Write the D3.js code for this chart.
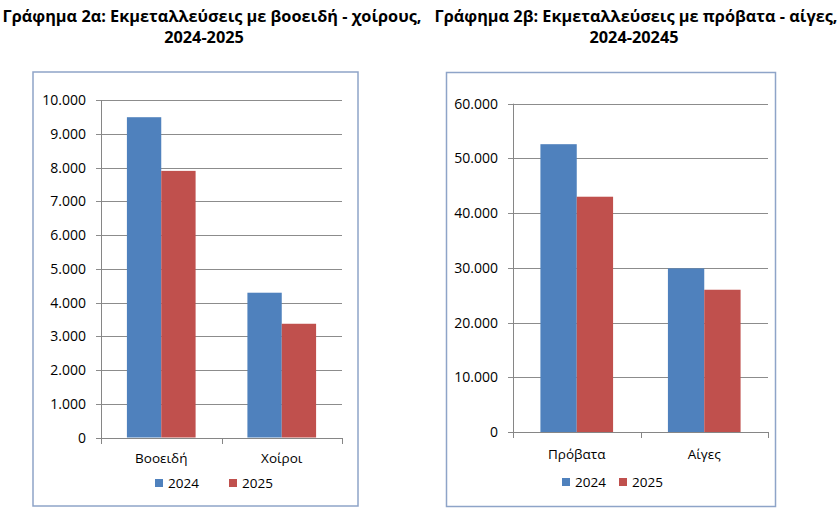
<!DOCTYPE html>
<html lang="el">
  <head>
    <meta charset="UTF-8" />
    <title>Γράφημα 2α - 2β</title>
    <style>
      body {
        margin: 0;
        background: #fff;
      }
      svg {
        display: block;
        font-family: "Open Sans", "DejaVu Sans", sans-serif;
      }
      .title {
        font-weight: bold;
        font-size: 16.3px;
        fill: #000;
        text-anchor: middle;
      }
      .frame {
        fill: none;
        stroke: #8ea4c8;
        stroke-width: 1.5;
      }
      .grid-lines line {
        stroke: #8c8c8c;
        stroke-width: 1;
      }
      .tick-label {
        font-size: 14px;
        fill: #000;
        text-anchor: end;
      }
      .cat-label {
        font-size: 13.5px;
        fill: #000;
        text-anchor: middle;
      }
      .legend text {
        font-size: 13.5px;
        fill: #000;
      }
    </style>
  </head>
  <body>
    <script src="https://d3js.org/d3.v7.min.js"></script>
    <script>
      // Γράφημα 2α: βοοειδή - χοίροι
      const catsA = ["Βοοειδή", "Χοίροι"];
      const valsA2024 = [9490, 4290];
      const valsA2025 = [7900, 3370];
      const ticksA = [0, 1000, 2000, 3000, 4000, 5000, 6000, 7000, 8000, 9000, 10000];
      const titleA = ["Γράφημα 2α: Εκμεταλλεύσεις με βοοειδή - χοίρους,", "2024-2025"];

      // Γράφημα 2β: πρόβατα - αίγες
      const catsB = ["Πρόβατα", "Αίγες"];
      const valsB2024 = [52600, 29900];
      const valsB2025 = [43000, 26000];
      const ticksB = [0, 10000, 20000, 30000, 40000, 50000, 60000];
      const titleB = ["Γράφημα 2β: Εκμεταλλεύσεις με πρόβατα - αίγες,", "2024-20245"];

      const years = ["2024", "2025"];
      const colors = ["#4f81bd", "#c0504d"];

      const locale = d3.formatLocale({
        decimal: ",",
        thousands: ".",
        grouping: [3],
        currency: ["", "€"],
      });
      const fmt = locale.format(",d");

      const svg = d3
        .select("body")
        .append("svg")
        .attr("width", 840)
        .attr("height", 514);

      function makeChart(cfg) {
        const g = svg.append("g");

        // τίτλος
        g.selectAll(".title")
          .data(cfg.title)
          .join("text")
          .attr("class", "title")
          .attr("x", (d, i) => cfg.titleX[i])
          .attr("y", (d, i) => 22 + i * 21)
          .text((d) => d);

        g.append("rect")
          .attr("class", "frame")
          .attr("x", cfg.frame[0])
          .attr("y", cfg.frame[1])
          .attr("width", cfg.frame[2] - cfg.frame[0])
          .attr("height", cfg.frame[3] - cfg.frame[1]);

        const x = d3
          .scaleBand()
          .domain(cfg.cats)
          .range([cfg.left, cfg.right])
          .paddingInner(0.43)
          .paddingOuter(0.215);

        const xInner = d3
          .scaleBand()
          .domain(years)
          .range([0, x.bandwidth()]);

        const y = d3
          .scaleLinear()
          .domain([0, d3.max(cfg.ticks)])
          .range([cfg.bottom, cfg.top]);

        // οριζόντιες γραμμές πλέγματος
        g.append("g")
          .attr("class", "grid-lines")
          .selectAll("line")
          .data(cfg.ticks)
          .join("line")
          .attr("x1", cfg.left - 5)
          .attr("x2", cfg.right)
          .attr("y1", (d) => Math.round(y(d)) + 0.5)
          .attr("y2", (d) => Math.round(y(d)) + 0.5);

        g.append("g")
          .selectAll("text")
          .data(cfg.ticks)
          .join("text")
          .attr("class", "tick-label")
          .attr("x", cfg.left - cfg.labelGap)
          .attr("y", (d) => y(d))
          .attr("dy", "0.36em")
          .text((d) => fmt(d));

        const series = years.map((yr, k) => ({
          year: yr,
          color: colors[k],
          values: cfg.cats.map((c, i) => ({ cat: c, value: cfg.values[k][i] })),
        }));

        g.append("g")
          .selectAll("g")
          .data(series)
          .join("g")
          .attr("fill", (d) => d.color)
          .selectAll("rect")
          .data((d) => d.values.map((v) => ({ ...v, year: d.year })))
          .join("rect")
          .attr("x", (d) => x(d.cat) + xInner(d.year))
          .attr("width", xInner.bandwidth())
          .attr("y", (d) => y(d.value))
          .attr("height", (d) => y(0) - y(d.value));

        // άξονες
        const axis = g.append("g").attr("stroke", "#868686").attr("stroke-width", 1);
        axis
          .append("line")
          .attr("x1", cfg.left + 0.5)
          .attr("x2", cfg.left + 0.5)
          .attr("y1", cfg.top)
          .attr("y2", Math.round(y(0)) + 0.5);
        axis
          .append("line")
          .attr("x1", cfg.left - 5)
          .attr("x2", cfg.right)
          .attr("y1", Math.round(y(0)) + 0.5)
          .attr("y2", Math.round(y(0)) + 0.5);
        axis
          .selectAll(".cat-tick")
          .data(d3.range(cfg.cats.length + 1))
          .join("line")
          .attr("x1", (i) => Math.round(cfg.left + i * x.step()) + 0.5)
          .attr("x2", (i) => Math.round(cfg.left + i * x.step()) + 0.5)
          .attr("y1", Math.round(y(0)))
          .attr("y2", Math.round(y(0)) + 6);

        g.append("g")
          .selectAll("text")
          .data(cfg.cats)
          .join("text")
          .attr("class", "cat-label")
          .attr("x", (d) => x(d) + x.bandwidth() / 2)
          .attr("y", cfg.catY)
          .attr("dy", "0.36em")
          .text((d) => d);

        // υπόμνημα
        const legend = g
          .append("g")
          .attr("class", "legend")
          .selectAll("g")
          .data(series)
          .join("g")
          .attr("transform", (d, i) => `translate(${cfg.legendX[i]}, ${cfg.legendY})`);

        legend
          .append("rect")
          .attr("x", 0)
          .attr("y", -4)
          .attr("width", 8)
          .attr("height", 8)
          .attr("fill", (d) => d.color);

        legend
          .append("text")
          .attr("x", 13)
          .attr("y", 0)
          .attr("dy", "0.36em")
          .text((d) => d.year);
      }

      makeChart({
        title: titleA,
        titleX: [212, 204],
        frame: [33, 72, 358, 506],
        left: 101,
        right: 342,
        top: 100,
        bottom: 437.5,
        labelGap: 15,
        cats: catsA,
        values: [valsA2024, valsA2025],
        ticks: ticksA,
        catY: 458,
        legendX: [155, 229],
        legendY: 483,
      });

      makeChart({
        title: titleB,
        titleX: [636, 634],
        frame: [446.5, 72.5, 775.5, 506.5],
        left: 513,
        right: 768,
        top: 103.7,
        bottom: 432,
        labelGap: 15,
        cats: catsB,
        values: [valsB2024, valsB2025],
        ticks: ticksB,
        catY: 454,
        legendX: [562, 619],
        legendY: 482,
      });
    </script>
  </body>
</html>
